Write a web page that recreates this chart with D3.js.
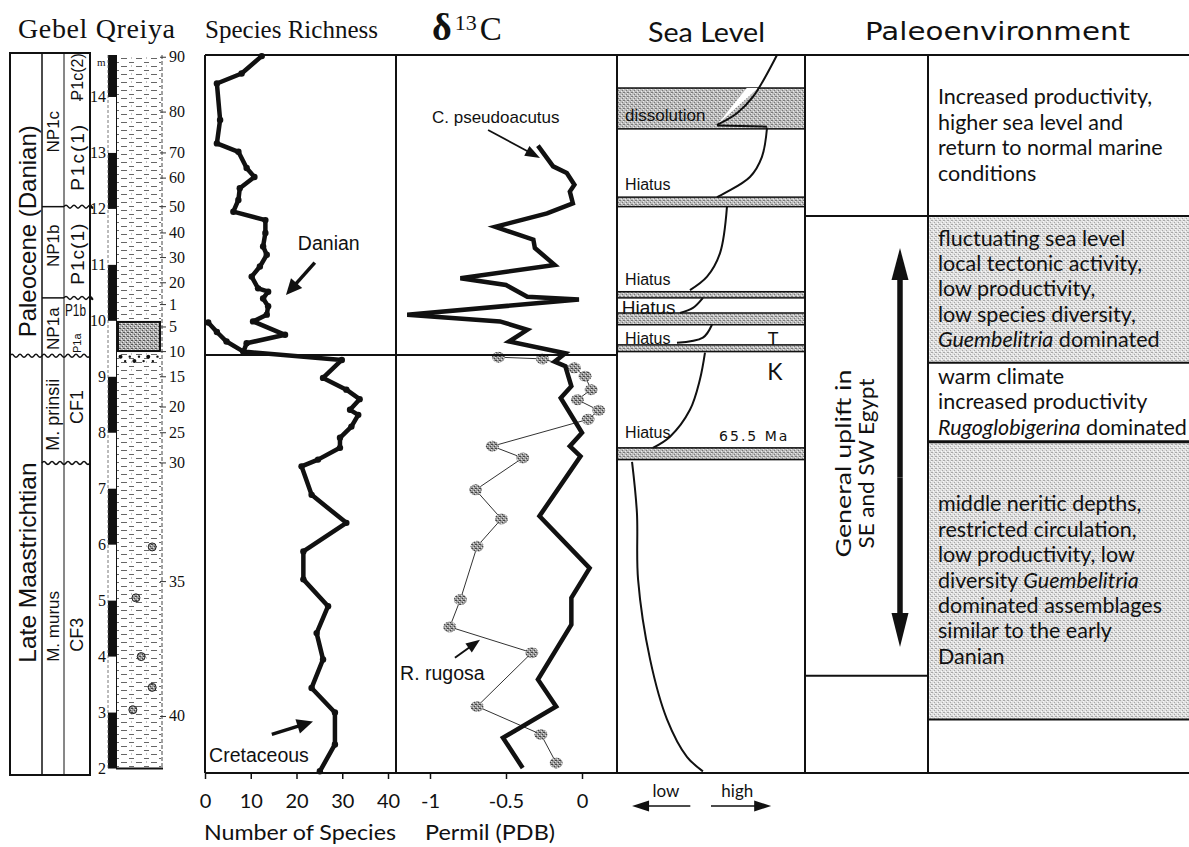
<!DOCTYPE html>
<html>
<head>
<meta charset="utf-8">
<title>Gebel Qreiya</title>
<script src="https://cdn.jsdelivr.net/npm/d3@7/dist/d3.min.js"></script>
<style>
  body { margin: 0; background: #fff; }
</style>
</head>
<body>
<svg id="chart" width="1189" height="847"></svg>
<script>
// ---------- data (depth = metres in section) ----------

// species richness: [metres, number of species]
var richness = [
  [14.73, 12.4], [14.42, 8.0], [14.24, 2.6], [13.59, 3.3], [13.17, 2.6], [13.02, 7.3],
  [12.73, 9.1], [12.57, 10.8], [12.37, 7.6], [12.16, 7.3], [11.95, 6.2], [11.80, 13.2],
  [11.57, 13.2], [11.33, 12.7], [11.18, 13.5], [10.97, 12.0], [10.79, 10.2], [10.58, 11.6],
  [10.52, 13.8], [10.40, 12.7], [10.26, 13.8], [10.11, 13.5], [9.99, 10.5], [9.75, 17.5],
  [9.60, 9.1], [9.45, 8.4], [9.30, 29.9], [8.98, 25.8], [8.77, 30.9], [8.60, 33.8],
  [8.41, 31.7], [8.32, 33.5], [8.11, 32.0], [7.91, 29.5], [7.73, 29.5], [7.52, 24.7],
  [7.40, 21.1], [6.89, 23.3], [6.39, 30.9], [5.88, 21.5], [5.38, 21.5], [4.90, 26.9],
  [4.42, 24.4], [3.95, 25.8], [3.44, 23.3], [3.00, 28.4], [2.43, 28.4], [1.95, 25.1]
];
var richnessP1a = [[9.97, 0.7], [9.80, 2.6], [9.63, 4.7], [9.45, 8.4]];

// bulk rock d13C: [metres, permil]
var d13C = [
  [13.13, -0.29], [12.76, -0.19], [12.64, -0.10], [12.43, -0.05], [12.31, -0.08], [12.10, -0.06],
  [11.92, -0.23], [11.68, -0.57], [11.45, -0.32], [11.30, -0.31], [11.00, -0.18], [10.76, -0.80],
  [10.64, -0.50], [10.43, -0.36], [10.38, -0.02], [10.11, -1.15], [9.99, -0.54], [9.84, -0.36],
  [9.63, -0.48], [9.42, -0.11], [9.27, -0.18], [9.19, -0.11], [8.83, -0.07], [8.62, -0.14],
  [8.00, 0.00], [7.76, -0.08], [7.58, -0.01], [6.51, -0.28], [5.58, 0.05], [5.05, -0.07],
  [4.57, -0.07], [3.59, -0.29], [3.11, -0.17], [2.55, -0.52], [2.01, -0.39]
];

// R. rugosa d13C: [metres, permil]
var rugosa = [
  [9.35, -0.55], [9.32, -0.26], [9.16, -0.05], [9.01, 0.02], [8.77, 0.06], [8.59, -0.03],
  [8.40, 0.11], [8.24, 0.04], [7.76, -0.59], [7.55, -0.39], [6.98, -0.70], [6.46, -0.53],
  [5.97, -0.69], [5.02, -0.80], [4.53, -0.87], [4.07, -0.33], [3.11, -0.69], [2.61, -0.27],
  [2.10, -0.17]
];

// sea level curve pieces: [metres, level 0 = low .. 1 = high]
var seaSegs = [
  [[14.75, 0.851], [14.0, 0.723], [13.71, 0.638], [13.5, 0.532]],
  [[13.45, 0.798], [12.93, 0.771], [12.57, 0.707], [12.21, 0.532]],
  [[12.04, 0.585], [11.21, 0.548], [10.79, 0.479], [10.55, 0.388]],
  [[10.41, 0.457], [10.23, 0.404], [10.14, 0.335]],
  [[9.93, 0.505], [9.70, 0.457], [9.61, 0.319]],
  [[9.43, 0.468], [8.95, 0.441], [8.41, 0.388], [7.93, 0.282], [7.73, 0.191]],
  [[7.48, 0.080], [6.57, 0.106], [5.38, 0.112], [3.95, 0.176], [2.88, 0.266], [2.21, 0.372], [1.95, 0.457]]
];
var seaNotch = [[13.49, 0.532], [13.47, 0.798]];
// grey bands [top, base]
var seaBands = [[14.16, 13.43], [12.21, 12.04], [10.52, 10.41], [10.14, 9.93], [9.57, 9.45], [7.73, 7.52]];
var seaLabels = [
  {t: 'dissolution', m: 13.57, l: 0.043, s: 17},
  {t: 'Hiatus', m: 12.34, l: 0.043, s: 16},
  {t: 'Hiatus', m: 10.64, l: 0.043, s: 16},
  {t: 'Hiatus', m: 10.13, l: 0.025, s: 19},
  {t: 'Hiatus', m: 9.59, l: 0.043, s: 16},
  {t: 'Hiatus', m: 7.91, l: 0.043, s: 16}
];

// stratigraphy
var epochs = [
  {name: 'Paleocene (Danian)', lab: 11.6, size: 24},
  {name: 'Late Maastrichtian', lab: 5.68, size: 24.5}
];
var nannoZones = [
  {name: 'NP1c', lab: 13.38, size: 17}, {name: 'NP1b', lab: 11.34, size: 17},
  {name: 'NP1a', lab: 9.86, size: 17}, {name: 'M. prinsii', lab: 8.32, size: 18},
  {name: 'M. murus', lab: 4.54, size: 17}
];
var foramZones = [
  {name: 'P1c(2)', lab: 14.36, size: 16, sp: 0}, {name: 'P1c(1)', lab: 12.93, size: 19, sp: 2},
  {name: 'P1c(1)', lab: 11.2, size: 19, sp: 1}, {name: 'P1a', lab: 9.6, size: 11, sp: 0},
  {name: 'CF1', lab: 8.46, size: 18, sp: 0}, {name: 'CF3', lab: 4.39, size: 18, sp: 0}
];
var meterLabels = [14, 13, 12, 11, 10, 9, 8, 7, 6, 5, 4, 3, 2];
var blackMeters = [[14.75, 14], [13, 12], [11, 10], [9, 8], [7, 6], [5, 4], [3, 2]];
var sampleLabels = ['90', '80', '70', '60', '50', '40', '30', '20', '1', '5', '10', '15', '20', '25', '30', '35', '40'];
var sampleDepths = [14.71, 13.73, 13.0, 12.55, 12.04, 11.57, 11.13, 10.68, 10.29, 9.89, 9.45, 9.0, 8.46, 8.0, 7.46, 5.34, 2.93];
var fossils = [[5.96, 0.8], [5.05, 0.43], [4.0, 0.55], [3.45, 0.8], [3.05, 0.36]];

// paleoenvironment
var envBounds = [14.75, 11.875, 9.25, 7.84, 2.875, 1.92];
var envGrey = [false, true, false, true, false];
var envText = [
  ['Increased productivity,', 'higher sea level and', 'return to normal marine', 'conditions'],
  ['fluctuating sea level', 'local tectonic activity,', 'low productivity,', 'low species diversity,', '*Guembelitria* dominated'],
  ['warm climate', 'increased productivity', '*Rugoglobigerina* dominated'],
  ['middle neritic depths,', 'restricted circulation,', 'low productivity, low', 'diversity *Guembelitria*',
   'dominated assemblages', 'similar to the early', 'Danian'],
  []
];
var upliftBounds = [14.75, 11.875, 3.66, 1.92];

var richTicks = [0, 10, 20, 30, 40];
var isoTicks = [-1, -0.5, 0];
var isoTickLabels = ['-1', '-0.5', '0'];

// ---------- setup ----------
var sans = "'Liberation Sans', Arial, sans-serif";
var gill = "Lato, 'Open Sans', sans-serif";
var serif = "'Liberation Serif', 'Times New Roman', serif";
var ink = '#111';

var svg = d3.select('#chart');
var defs = svg.append('defs');

var y = d3.scaleLinear().domain([14.75, 1.92]).range([55, 773]);
var xRich = d3.scaleLinear().domain([0, 40]).range([205, 388]);
var xIso = d3.scaleLinear().domain([-1, 0]).range([430, 582]);
var xSea = d3.scaleLinear().domain([0, 1]).range([617, 805]);

function stipple(id, base, dark, light) {
  var p = defs.append('pattern').attr('id', id)
    .attr('width', 4).attr('height', 4).attr('patternUnits', 'userSpaceOnUse');
  p.append('rect').attr('width', 4).attr('height', 4).attr('fill', base);
  [[0, 0], [2, 2], [3, 0]].forEach(function (d) {
    p.append('rect').attr('x', d[0]).attr('y', d[1]).attr('width', 1).attr('height', 1).attr('fill', dark);
  });
  [[1, 3], [3, 1]].forEach(function (d) {
    p.append('rect').attr('x', d[0]).attr('y', d[1]).attr('width', 1).attr('height', 1).attr('fill', light);
  });
}
stipple('band', '#bdbdbd', '#7a7a7a', '#ececec');
stipple('env', '#e0e0e0', '#a8a8a8', '#fafafa');
stipple('bed', '#b0b0b0', '#555', '#eee');
stipple('dot', '#999', '#444', '#e0e0e0');

var marl = defs.append('pattern').attr('id', 'marl')
  .attr('width', 15).attr('height', 8).attr('patternUnits', 'userSpaceOnUse');
marl.append('path').attr('d', 'M1,2.5H7M9,6.5H14').attr('stroke', '#666').attr('stroke-width', 1);
marl.append('rect').attr('x', 11).attr('y', 1.5).attr('width', 1).attr('height', 1).attr('fill', '#888');

function arrow(g, x1, y1, x2, y2, w, hl, hw) {
  var dx = x2 - x1, dy = y2 - y1, L = Math.sqrt(dx * dx + dy * dy);
  var ux = dx / L, uy = dy / L;
  var bx = x2 - ux * hl, by = y2 - uy * hl;
  g.append('line').attr('x1', x1).attr('y1', y1)
    .attr('x2', x2 - ux * hl * 0.7).attr('y2', y2 - uy * hl * 0.7)
    .attr('stroke', ink).attr('stroke-width', w);
  g.append('path')
    .attr('d', 'M' + x2 + ',' + y2 + 'L' + (bx - uy * hw / 2) + ',' + (by + ux * hw / 2) +
      'L' + (bx + uy * hw / 2) + ',' + (by - ux * hw / 2) + 'Z')
    .attr('fill', ink);
}

function wavy(x0, x1, yy) {
  var s = 'M' + x0 + ',' + yy;
  for (var x = x0; x < x1; x += 8) {
    var xe = Math.min(x + 8, x1);
    s += 'Q' + (x + 2) + ',' + (yy - 3) + ' ' + (x + 4) + ',' + yy + 'T' + xe + ',' + yy;
  }
  return s;
}

// ---------- titles ----------
svg.append('text').attr('x', 18).attr('y', 38).attr('font-family', serif).attr('font-size', 28)
  .attr('textLength', 157).attr('fill', ink).text('Gebel Qreiya');
svg.append('text').attr('x', 205).attr('y', 38).attr('font-family', serif).attr('font-size', 25)
  .attr('textLength', 173).attr('fill', ink).text('Species Richness');
var dt = svg.append('text').attr('x', 432).attr('y', 40).attr('font-family', serif).attr('fill', ink);
dt.append('tspan').attr('font-size', 38).attr('font-weight', 'bold').text('δ');
dt.append('tspan').attr('font-size', 22).attr('dy', -10).attr('dx', 3).text('13');
dt.append('tspan').attr('font-size', 33).attr('dy', 10).attr('dx', 3).text('C');
svg.append('text').attr('x', 648).attr('y', 42).attr('font-family', gill).attr('font-size', 27)
  .attr('textLength', 117).attr('lengthAdjust', 'spacingAndGlyphs').attr('fill', ink).text('Sea Level');
svg.append('text').attr('x', 865).attr('y', 40).attr('font-family', "'DejaVu Sans', sans-serif")
  .attr('font-size', 25).attr('textLength', 265).attr('lengthAdjust', 'spacingAndGlyphs')
  .attr('fill', ink).text('Paleoenvironment');

// ---------- stratigraphic column ----------
var strat = svg.append('g');
var top0 = y(14.75) - 2, bot0 = y(1.92) + 2;
strat.append('rect').attr('x', 10).attr('y', top0).attr('width', 80).attr('height', bot0 - top0)
  .attr('fill', 'none').attr('stroke', ink).attr('stroke-width', 2);
strat.append('line').attr('x1', 42).attr('x2', 42).attr('y1', top0).attr('y2', bot0)
  .attr('stroke', ink).attr('stroke-width', 1.5);
strat.append('line').attr('x1', 64).attr('x2', 64).attr('y1', top0).attr('y2', bot0)
  .attr('stroke', ink).attr('stroke-width', 1);

// boundaries
[[42, 64, 12.04], [42, 64, 10.41]].forEach(function (b) {
  strat.append('line').attr('x1', b[0]).attr('x2', b[1]).attr('y1', y(b[2])).attr('y2', y(b[2]))
    .attr('stroke', ink).attr('stroke-width', 1.5);
});
[[64, 90, 12.04], [64, 90, 10.41], [10, 90, 9.375], [42, 90, 7.46]].forEach(function (b) {
  strat.append('path').attr('d', wavy(b[0], b[1], y(b[2])))
    .attr('fill', 'none').attr('stroke', ink).attr('stroke-width', 1.5);
});
strat.append('line').attr('x1', 80).attr('x2', 80).attr('y1', y(14.05)).attr('y2', y(13.93))
  .attr('stroke', ink).attr('stroke-width', 1.2);

function vlabel(g, x, m, txt, size, sp) {
  g.append('text').attr('transform', 'translate(' + x + ',' + y(m) + ') rotate(-90)')
    .attr('text-anchor', 'middle').attr('dominant-baseline', 'central')
    .attr('letter-spacing', sp || 0)
    .attr('font-family', sans).attr('font-size', size).attr('fill', ink).text(txt);
}
epochs.forEach(function (e) { vlabel(strat, 27, e.lab, e.name, e.size); });
nannoZones.forEach(function (z) { vlabel(strat, 53, z.lab, z.name, z.size); });
foramZones.forEach(function (z) { vlabel(strat, 77, z.lab, z.name, z.size, z.sp); });
strat.append('text').attr('x', 65).attr('y', y(10.09)).attr('font-family', sans).attr('font-size', 16)
  .attr('textLength', 21).attr('lengthAdjust', 'spacingAndGlyphs').attr('fill', ink).text('P1b');

// metre bars and labels
strat.selectAll('rect.bar').data(blackMeters).enter().append('rect').attr('class', 'bar')
  .attr('x', 108).attr('width', 8)
  .attr('y', function (d) { return y(d[0]); })
  .attr('height', function (d) { return y(d[1]) - y(d[0]); })
  .attr('fill', ink);
strat.append('line').attr('x1', 108).attr('x2', 108).attr('y1', y(14.75)).attr('y2', y(2))
  .attr('stroke', '#555').attr('stroke-width', 0.8).attr('stroke-dasharray', '3,2');
strat.selectAll('text.m').data(meterLabels).enter().append('text').attr('class', 'm')
  .attr('x', 106).attr('y', function (d) { return y(d) + 5; })
  .attr('text-anchor', 'end').attr('font-family', serif).attr('font-size', 16).attr('fill', ink)
  .text(function (d) { return d; });
strat.append('text').attr('x', 97).attr('y', y(14.55)).attr('font-family', serif)
  .attr('font-size', 11).attr('fill', ink).text('m');

// lithology
strat.append('rect').attr('x', 117).attr('width', 44).attr('y', y(14.75)).attr('height', y(2) - y(14.75))
  .attr('fill', 'url(#marl)');
strat.append('line').attr('x1', 116.5).attr('x2', 116.5).attr('y1', y(14.75)).attr('y2', y(2))
  .attr('stroke', ink).attr('stroke-width', 1);
strat.append('line').attr('x1', 162).attr('x2', 162).attr('y1', y(14.75)).attr('y2', y(2))
  .attr('stroke', '#444').attr('stroke-width', 1).attr('stroke-dasharray', '4,2');
strat.append('line').attr('x1', 116).attr('x2', 163).attr('y1', y(2)).attr('y2', y(2))
  .attr('stroke', ink).attr('stroke-width', 2);
strat.append('rect').attr('x', 118).attr('width', 42).attr('y', y(9.98)).attr('height', y(9.46) - y(9.98))
  .attr('fill', 'url(#bed)').attr('stroke', ink).attr('stroke-width', 2);
var pebbles = d3.range(0, 9).map(function (i) { return [9.36 - (i % 2) * 0.08, 0.08 + i * 0.105]; });
strat.selectAll('circle.peb').data(pebbles).enter().append('circle').attr('class', 'peb')
  .attr('cx', function (d) { return 117 + d[1] * 44; }).attr('cy', function (d) { return y(d[0]); })
  .attr('r', function (d, i) { return i % 3 === 0 ? 2 : 1.2; }).attr('fill', ink);
strat.selectAll('circle.fos').data(fossils).enter().append('circle').attr('class', 'fos')
  .attr('cx', function (d) { return 117 + d[1] * 44; }).attr('cy', function (d) { return y(d[0]); })
  .attr('r', 4).attr('fill', 'url(#dot)').attr('stroke', '#222').attr('stroke-width', 1);

// sample numbers
var samples = sampleLabels.map(function (t, i) { return {t: t, m: sampleDepths[i]}; });
strat.selectAll('line.st').data(samples).enter().append('line').attr('class', 'st')
  .attr('x1', 160).attr('x2', 166)
  .attr('y1', function (d) { return y(d.m); }).attr('y2', function (d) { return y(d.m); })
  .attr('stroke', '#333').attr('stroke-width', 1);
strat.selectAll('text.sn').data(samples).enter().append('text').attr('class', 'sn')
  .attr('x', 169).attr('y', function (d) { return y(d.m) + 5; })
  .attr('font-family', serif).attr('font-size', 16).attr('fill', ink)
  .text(function (d) { return d.t; });

// ---------- species richness ----------
var rich = svg.append('g');
var lineR = d3.line().x(function (d) { return xRich(d[1]); }).y(function (d) { return y(d[0]); });
rich.append('path').datum(richness).attr('d', lineR).attr('fill', 'none')
  .attr('stroke', ink).attr('stroke-width', 4.5).attr('stroke-linejoin', 'round');
rich.append('path').datum(richnessP1a).attr('d', lineR).attr('fill', 'none')
  .attr('stroke', ink).attr('stroke-width', 4.5).attr('stroke-linejoin', 'round');
rich.selectAll('circle').data(richness.concat(richnessP1a)).enter().append('circle')
  .attr('cx', function (d) { return xRich(d[1]); }).attr('cy', function (d) { return y(d[0]); })
  .attr('r', 3.2).attr('fill', ink);

// Danian / Cretaceous annotations
rich.append('text').attr('x', xRich(20.3)).attr('y', y(11.27)).attr('font-family', sans)
  .attr('font-size', 19.5).attr('fill', ink).text('Danian');
arrow(rich, xRich(24.0), y(11.04), xRich(17.7), y(10.46), 3.5, 16, 15);
rich.append('text').attr('x', xRich(0.9)).attr('y', y(2.11)).attr('font-family', sans)
  .attr('font-size', 19.5).attr('fill', ink).text('Cretaceous');
arrow(rich, xRich(14.6), y(2.61), xRich(23.6), y(2.84), 3.5, 16, 15);

// ---------- d13C ----------
var iso = svg.append('g');
var lineI = d3.line().x(function (d) { return xIso(d[1]); }).y(function (d) { return y(d[0]); });
iso.append('path').datum(rugosa).attr('d', lineI).attr('fill', 'none')
  .attr('stroke', '#333').attr('stroke-width', 1);
iso.selectAll('ellipse').data(rugosa).enter().append('ellipse')
  .attr('cx', function (d) { return xIso(d[1]); }).attr('cy', function (d) { return y(d[0]); })
  .attr('rx', 6.5).attr('ry', 5.5).attr('fill', 'url(#dot)');
iso.append('path').datum(d13C).attr('d', lineI).attr('fill', 'none')
  .attr('stroke', ink).attr('stroke-width', 4.5).attr('stroke-linejoin', 'miter');

iso.append('text').attr('x', xIso(-0.987)).attr('y', y(13.54)).attr('font-family', sans)
  .attr('font-size', 17).attr('fill', ink).text('C. pseudoacutus');
arrow(iso, xIso(-0.618), y(13.41), xIso(-0.276), y(12.91), 1.8, 15, 11);
iso.append('text').attr('x', xIso(-1.197)).attr('y', y(3.59)).attr('font-family', sans)
  .attr('font-size', 19.5).attr('fill', ink).text('R. rugosa');
arrow(iso, xIso(-0.836), y(3.98), xIso(-0.671), y(4.30), 2, 14, 11);

// ---------- sea level ----------
var sea = svg.append('g');
sea.selectAll('rect').data(seaBands).enter().append('rect')
  .attr('x', xSea(0)).attr('width', xSea(1) - xSea(0))
  .attr('y', function (d) { return y(d[0]); })
  .attr('height', function (d) { return y(d[1]) - y(d[0]); })
  .attr('fill', 'url(#band)').attr('stroke', ink).attr('stroke-width', 1.5);
var wedge = [[14.16, 0.69], [14.16, 0.75], [13.5, 0.532]];
sea.append('path').datum(wedge)
  .attr('d', d3.line().x(function (d) { return xSea(d[1]); }).y(function (d) { return y(d[0]); }))
  .attr('fill', '#fff');
var lineS = d3.line().x(function (d) { return xSea(d[1]); }).y(function (d) { return y(d[0]); })
  .curve(d3.curveCatmullRom);
sea.selectAll('path.seg').data(seaSegs).enter().append('path').attr('class', 'seg')
  .attr('d', lineS).attr('fill', 'none').attr('stroke', ink).attr('stroke-width', 2);
sea.append('path').datum(seaNotch).attr('d', lineS).attr('fill', 'none')
  .attr('stroke', ink).attr('stroke-width', 2);
sea.selectAll('text.sl').data(seaLabels).enter().append('text').attr('class', 'sl')
  .attr('x', function (d) { return xSea(d.l); }).attr('y', function (d) { return y(d.m); })
  .attr('font-family', sans).attr('font-size', function (d) { return d.s; }).attr('fill', ink)
  .text(function (d) { return d.t; });
sea.append('text').attr('x', xSea(0.83)).attr('y', y(9.57)).attr('text-anchor', 'middle')
  .attr('font-family', gill).attr('font-size', 18).attr('fill', ink).text('T');
sea.append('text').attr('x', xSea(0.84)).attr('y', y(8.95)).attr('text-anchor', 'middle')
  .attr('font-family', gill).attr('font-size', 23).attr('fill', ink).text('K');
sea.append('text').attr('x', xSea(0.73)).attr('y', y(7.86)).attr('text-anchor', 'middle')
  .attr('font-family', "'DejaVu Sans', sans-serif").attr('font-size', 14).attr('letter-spacing', 2)
  .attr('fill', ink).text('65.5 Ma');

// low / high
sea.append('text').attr('x', xSea(0.26)).attr('y', 797).attr('text-anchor', 'middle')
  .attr('font-family', gill).attr('font-size', 17).attr('fill', ink).text('low');
sea.append('text').attr('x', xSea(0.64)).attr('y', 797).attr('text-anchor', 'middle')
  .attr('font-family', gill).attr('font-size', 17).attr('fill', ink).text('high');
arrow(sea, xSea(0.39), 806, xSea(0.08), 806, 1.5, 17, 11);
arrow(sea, xSea(0.5), 806, xSea(0.82), 806, 1.5, 17, 11);

// ---------- paleoenvironment ----------
var env = svg.append('g');
var envRows = envText.map(function (t, i) {
  return {top: envBounds[i], base: envBounds[i + 1], grey: envGrey[i], lines: t};
});
env.selectAll('rect').data(envRows).enter().append('rect')
  .attr('x', 929).attr('width', 1189 - 929)
  .attr('y', function (d) { return y(d.top); })
  .attr('height', function (d) { return y(d.base) - y(d.top); })
  .attr('fill', function (d) { return d.grey ? 'url(#env)' : '#fff'; });
envBounds.forEach(function (b, i) {
  env.append('line').attr('x1', i === 1 ? 805 : 928).attr('x2', 1189)
    .attr('y1', y(b)).attr('y2', y(b)).attr('stroke', ink).attr('stroke-width', i === 3 ? 3 : 2);
});
envRows.forEach(function (r) {
  var mid = (y(r.top) + y(r.base)) / 2, n = r.lines.length, lh = 25.4;
  r.lines.forEach(function (ln, j) {
    var t = env.append('text').attr('x', 938).attr('y', mid + (j - (n - 1) / 2) * lh + 7)
      .attr('font-family', gill).attr('font-size', 21.5).attr('fill', ink);
    ln.split('*').forEach(function (part, k) {
      if (part) t.append('tspan').attr('font-style', k % 2 ? 'italic' : 'normal').text(part);
    });
  });
});

// uplift column
upliftBounds.forEach(function (b) {
  env.append('line').attr('x1', 805).attr('x2', 928).attr('y1', y(b)).attr('y2', y(b))
    .attr('stroke', ink).attr('stroke-width', 2);
});
env.append('line').attr('x1', 928).attr('x2', 928).attr('y1', y(14.75)).attr('y2', y(1.92))
  .attr('stroke', ink).attr('stroke-width', 2);
var um = y(7.45);
env.append('text').attr('transform', 'translate(851,' + um + ') rotate(-90)')
  .attr('text-anchor', 'middle').attr('font-family', gill).attr('font-size', 22)
  .attr('textLength', 188).attr('lengthAdjust', 'spacingAndGlyphs').attr('fill', ink)
  .text('General uplift in');
env.append('text').attr('transform', 'translate(874,' + um + ') rotate(-90)')
  .attr('text-anchor', 'middle').attr('font-family', gill).attr('font-size', 22)
  .attr('textLength', 170).attr('lengthAdjust', 'spacingAndGlyphs').attr('fill', ink)
  .text('SE and SW Egypt');
arrow(env, 900, y(7.2), 900, y(11.3), 5.5, 32, 17);
arrow(env, 900, y(7.2), 900, y(4.17), 5.5, 34, 17);

// ---------- frames and axes ----------
var fr = svg.append('g').attr('fill', 'none').attr('stroke', ink);
fr.append('line').attr('x1', 205).attr('x2', 1189).attr('y1', y(14.75)).attr('y2', y(14.75)).attr('stroke-width', 2);
fr.append('line').attr('x1', 205).attr('x2', 1189).attr('y1', y(1.92)).attr('y2', y(1.92)).attr('stroke-width', 2);
[205, 396, 617, 805].forEach(function (x) {
  fr.append('line').attr('x1', x).attr('x2', x).attr('y1', y(14.75)).attr('y2', y(1.92)).attr('stroke-width', 2);
});
fr.append('line').attr('x1', 205).attr('x2', 617).attr('y1', y(9.39)).attr('y2', y(9.39)).attr('stroke-width', 2);

var axR = svg.append('g').attr('transform', 'translate(0,' + y(1.92) + ')')
  .call(d3.axisBottom(xRich).tickValues(richTicks).tickSize(6).tickPadding(15));
var axI = svg.append('g').attr('transform', 'translate(0,' + y(1.92) + ')')
  .call(d3.axisBottom(xIso).tickValues(isoTicks).tickSize(6).tickPadding(15)
    .tickFormat(function (d, i) { return isoTickLabels[i]; }));
[axR, axI].forEach(function (a) {
  a.select('.domain').remove();
  a.selectAll('text').attr('font-family', gill).attr('font-size', 20).attr('fill', ink);
  a.selectAll('line').attr('stroke', ink).attr('stroke-width', 1.5);
});
svg.append('text').attr('x', 300).attr('y', 840).attr('text-anchor', 'middle')
  .attr('font-family', gill).attr('font-size', 21).attr('textLength', 192)
  .attr('lengthAdjust', 'spacingAndGlyphs').attr('fill', ink).text('Number of Species');
svg.append('text').attr('x', 490).attr('y', 840).attr('text-anchor', 'middle')
  .attr('font-family', gill).attr('font-size', 21).attr('textLength', 130)
  .attr('lengthAdjust', 'spacingAndGlyphs').attr('fill', ink).text('Permil (PDB)');
</script>
</body>
</html>
